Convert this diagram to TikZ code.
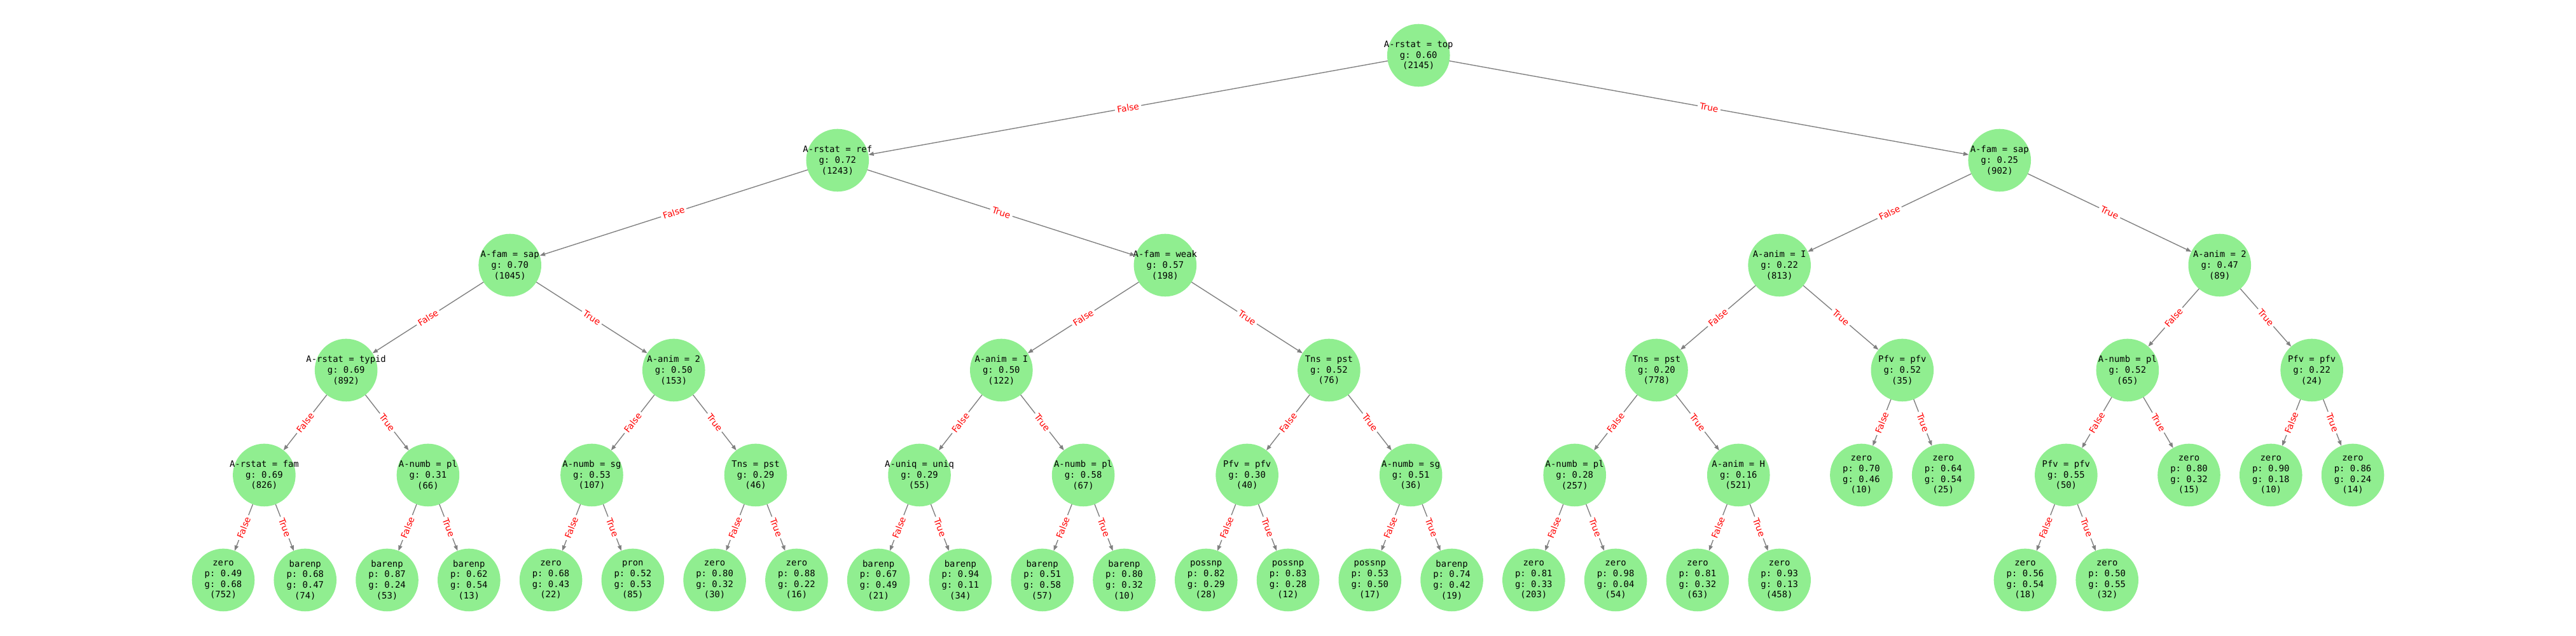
\documentclass[tikz,border=0pt]{standalone}
\usepackage{fontspec}
\setmonofont{DejaVu Sans Mono}
\newfontfamily\edgefont{DejaVu Sans}
\usepackage{tikz}
\usetikzlibrary{arrows.meta}

\definecolor{leafgreen}{HTML}{90EE90}
\definecolor{edgegray}{HTML}{808080}

\begin{document}
\begin{tikzpicture}[
  x=92.72pt, y=-118.8pt,
  split/.style={circle, fill=leafgreen, minimum size=71pt, inner sep=-20pt, outer sep=0pt,
    align=center, font=\ttfamily\fontsize{10}{12}\selectfont},
  edge/.style={draw=edgegray, line width=1pt, -{Triangle[length=6pt,width=4.5pt]}},
  lab/.style={sloped, midway, fill=white, text=red, rounded corners=2pt,
    inner xsep=2.5pt, inner ysep=1.5pt, font=\edgefont\fontsize{10}{12}\selectfont}
]
\useasboundingbox (-2.7258,-0.5273) rectangle (28.7256,5.5333);
% level 0-2
\node[split] (r)    at (14.59375,0) {A-rstat = top\\g: 0.60\\(2145)};
\node[split] (rF)   at (7.5,1)      {A-rstat = ref\\g: 0.72\\(1243)};
\node[split] (rT)   at (21.6875,1)  {A-fam = sap\\g: 0.25\\(902)};
\node[split] (rFF)  at (3.5,2)      {A-fam = sap\\g: 0.70\\(1045)};
\node[split] (rFT)  at (11.5,2)     {A-fam = weak\\g: 0.57\\(198)};
\node[split] (rTF)  at (19,2)       {A-anim = I\\g: 0.22\\(813)};
\node[split] (rTT)  at (24.375,2)   {A-anim = 2\\g: 0.47\\(89)};
% level 3
\node[split] (rFFF) at (1.5,3)   {A-rstat = typid\\g: 0.69\\(892)};
\node[split] (rFFT) at (5.5,3)   {A-anim = 2\\g: 0.50\\(153)};
\node[split] (rFTF) at (9.5,3)   {A-anim = I\\g: 0.50\\(122)};
\node[split] (rFTT) at (13.5,3)  {Tns = pst\\g: 0.52\\(76)};
\node[split] (rTFF) at (17.5,3)  {Tns = pst\\g: 0.20\\(778)};
\node[split] (rTFT) at (20.5,3)  {Pfv = pfv\\g: 0.52\\(35)};
\node[split] (rTTF) at (23.25,3) {A-numb = pl\\g: 0.52\\(65)};
\node[split] (rTTT) at (25.5,3)  {Pfv = pfv\\g: 0.22\\(24)};
% level 4
\node[split] (rFFFF) at (0.5,4)  {A-rstat = fam\\g: 0.69\\(826)};
\node[split] (rFFFT) at (2.5,4)  {A-numb = pl\\g: 0.31\\(66)};
\node[split] (rFFTF) at (4.5,4)  {A-numb = sg\\g: 0.53\\(107)};
\node[split] (rFFTT) at (6.5,4)  {Tns = pst\\g: 0.29\\(46)};
\node[split] (rFTFF) at (8.5,4)  {A-uniq = uniq\\g: 0.29\\(55)};
\node[split] (rFTFT) at (10.5,4) {A-numb = pl\\g: 0.58\\(67)};
\node[split] (rFTTF) at (12.5,4) {Pfv = pfv\\g: 0.30\\(40)};
\node[split] (rFTTT) at (14.5,4) {A-numb = sg\\g: 0.51\\(36)};
\node[split] (rTFFF) at (16.5,4) {A-numb = pl\\g: 0.28\\(257)};
\node[split] (rTFFT) at (18.5,4) {A-anim = H\\g: 0.16\\(521)};
\node[split] (rTFTF) at (20,4)   {zero\\p: 0.70\\g: 0.46\\(10)};
\node[split] (rTFTT) at (21,4)   {zero\\p: 0.64\\g: 0.54\\(25)};
\node[split] (rTTFF) at (22.5,4) {Pfv = pfv\\g: 0.55\\(50)};
\node[split] (rTTFT) at (24,4)   {zero\\p: 0.80\\g: 0.32\\(15)};
\node[split] (rTTTF) at (25,4)   {zero\\p: 0.90\\g: 0.18\\(10)};
\node[split] (rTTTT) at (26,4)   {zero\\p: 0.86\\g: 0.24\\(14)};
% level 5 (leaves)
\node[split] (rFFFFF) at (0,5)  {zero\\p: 0.49\\g: 0.68\\(752)};
\node[split] (rFFFFT) at (1,5)  {barenp\\p: 0.68\\g: 0.47\\(74)};
\node[split] (rFFFTF) at (2,5)  {barenp\\p: 0.87\\g: 0.24\\(53)};
\node[split] (rFFFTT) at (3,5)  {barenp\\p: 0.62\\g: 0.54\\(13)};
\node[split] (rFFTFF) at (4,5)  {zero\\p: 0.68\\g: 0.43\\(22)};
\node[split] (rFFTFT) at (5,5)  {pron\\p: 0.52\\g: 0.53\\(85)};
\node[split] (rFFTTF) at (6,5)  {zero\\p: 0.80\\g: 0.32\\(30)};
\node[split] (rFFTTT) at (7,5)  {zero\\p: 0.88\\g: 0.22\\(16)};
\node[split] (rFTFFF) at (8,5)  {barenp\\p: 0.67\\g: 0.49\\(21)};
\node[split] (rFTFFT) at (9,5)  {barenp\\p: 0.94\\g: 0.11\\(34)};
\node[split] (rFTFTF) at (10,5) {barenp\\p: 0.51\\g: 0.58\\(57)};
\node[split] (rFTFTT) at (11,5) {barenp\\p: 0.80\\g: 0.32\\(10)};
\node[split] (rFTTFF) at (12,5) {possnp\\p: 0.82\\g: 0.29\\(28)};
\node[split] (rFTTFT) at (13,5) {possnp\\p: 0.83\\g: 0.28\\(12)};
\node[split] (rFTTTF) at (14,5) {possnp\\p: 0.53\\g: 0.50\\(17)};
\node[split] (rFTTTT) at (15,5) {barenp\\p: 0.74\\g: 0.42\\(19)};
\node[split] (rTFFFF) at (16,5) {zero\\p: 0.81\\g: 0.33\\(203)};
\node[split] (rTFFFT) at (17,5) {zero\\p: 0.98\\g: 0.04\\(54)};
\node[split] (rTFFTF) at (18,5) {zero\\p: 0.81\\g: 0.32\\(63)};
\node[split] (rTFFTT) at (19,5) {zero\\p: 0.93\\g: 0.13\\(458)};
\node[split] (rTTFFF) at (22,5) {zero\\p: 0.56\\g: 0.54\\(18)};
\node[split] (rTTFFT) at (23,5) {zero\\p: 0.50\\g: 0.55\\(32)};
% edges
\draw[edge] (r) -- node[lab]{False} (rF); \draw[edge] (r) -- node[lab]{True} (rT);
\draw[edge] (rF) -- node[lab]{False} (rFF); \draw[edge] (rF) -- node[lab]{True} (rFT);
\draw[edge] (rT) -- node[lab]{False} (rTF); \draw[edge] (rT) -- node[lab]{True} (rTT);
\draw[edge] (rFF) -- node[lab]{False} (rFFF); \draw[edge] (rFF) -- node[lab]{True} (rFFT);
\draw[edge] (rFT) -- node[lab]{False} (rFTF); \draw[edge] (rFT) -- node[lab]{True} (rFTT);
\draw[edge] (rTF) -- node[lab]{False} (rTFF); \draw[edge] (rTF) -- node[lab]{True} (rTFT);
\draw[edge] (rTT) -- node[lab]{False} (rTTF); \draw[edge] (rTT) -- node[lab]{True} (rTTT);
\draw[edge] (rFFF) -- node[lab]{False} (rFFFF); \draw[edge] (rFFF) -- node[lab]{True} (rFFFT);
\draw[edge] (rFFT) -- node[lab]{False} (rFFTF); \draw[edge] (rFFT) -- node[lab]{True} (rFFTT);
\draw[edge] (rFTF) -- node[lab]{False} (rFTFF); \draw[edge] (rFTF) -- node[lab]{True} (rFTFT);
\draw[edge] (rFTT) -- node[lab]{False} (rFTTF); \draw[edge] (rFTT) -- node[lab]{True} (rFTTT);
\draw[edge] (rTFF) -- node[lab]{False} (rTFFF); \draw[edge] (rTFF) -- node[lab]{True} (rTFFT);
\draw[edge] (rTFT) -- node[lab]{False} (rTFTF); \draw[edge] (rTFT) -- node[lab]{True} (rTFTT);
\draw[edge] (rTTF) -- node[lab]{False} (rTTFF); \draw[edge] (rTTF) -- node[lab]{True} (rTTFT);
\draw[edge] (rTTT) -- node[lab]{False} (rTTTF); \draw[edge] (rTTT) -- node[lab]{True} (rTTTT);
\draw[edge] (rFFFF) -- node[lab]{False} (rFFFFF); \draw[edge] (rFFFF) -- node[lab]{True} (rFFFFT);
\draw[edge] (rFFFT) -- node[lab]{False} (rFFFTF); \draw[edge] (rFFFT) -- node[lab]{True} (rFFFTT);
\draw[edge] (rFFTF) -- node[lab]{False} (rFFTFF); \draw[edge] (rFFTF) -- node[lab]{True} (rFFTFT);
\draw[edge] (rFFTT) -- node[lab]{False} (rFFTTF); \draw[edge] (rFFTT) -- node[lab]{True} (rFFTTT);
\draw[edge] (rFTFF) -- node[lab]{False} (rFTFFF); \draw[edge] (rFTFF) -- node[lab]{True} (rFTFFT);
\draw[edge] (rFTFT) -- node[lab]{False} (rFTFTF); \draw[edge] (rFTFT) -- node[lab]{True} (rFTFTT);
\draw[edge] (rFTTF) -- node[lab]{False} (rFTTFF); \draw[edge] (rFTTF) -- node[lab]{True} (rFTTFT);
\draw[edge] (rFTTT) -- node[lab]{False} (rFTTTF); \draw[edge] (rFTTT) -- node[lab]{True} (rFTTTT);
\draw[edge] (rTFFF) -- node[lab]{False} (rTFFFF); \draw[edge] (rTFFF) -- node[lab]{True} (rTFFFT);
\draw[edge] (rTFFT) -- node[lab]{False} (rTFFTF); \draw[edge] (rTFFT) -- node[lab]{True} (rTFFTT);
\draw[edge] (rTTFF) -- node[lab]{False} (rTTFFF); \draw[edge] (rTTFF) -- node[lab]{True} (rTTFFT);
\end{tikzpicture}
\end{document}
